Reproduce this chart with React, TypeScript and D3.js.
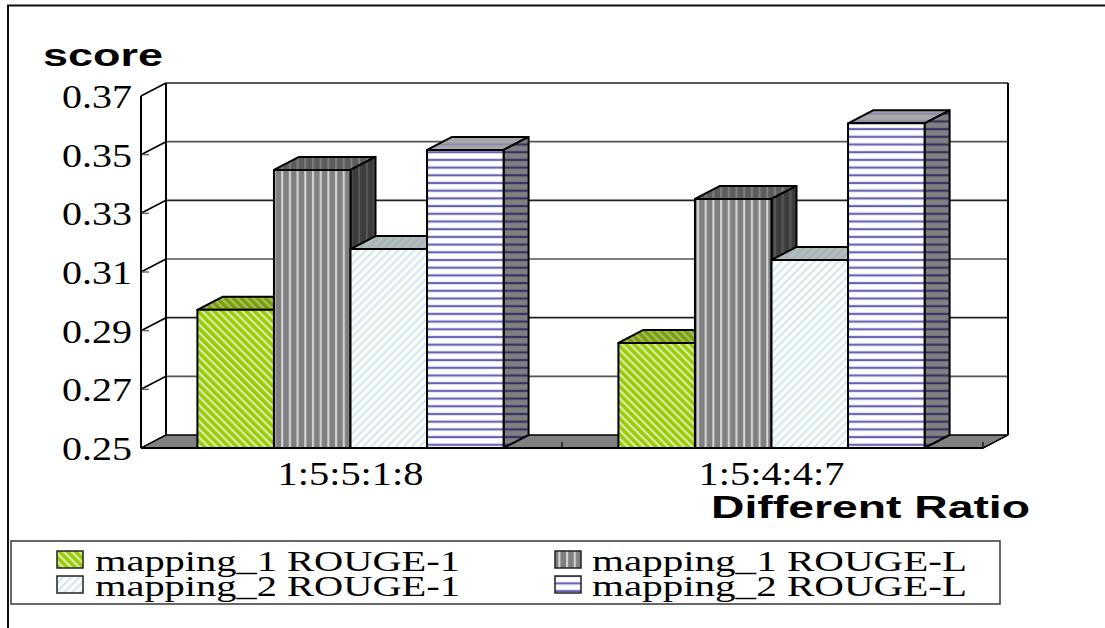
import React from "react";
import * as d3 from "d3";

const categories = ["1:5:5:1:8", "1:5:4:4:7"];
const seriesNames = ["mapping_1 ROUGE-1", "mapping_1 ROUGE-L", "mapping_2 ROUGE-1", "mapping_2 ROUGE-L"];
const ratioOne = [0.2971, 0.3448, 0.3178, 0.3516];
const ratioTwo = [0.2858, 0.3349, 0.3141, 0.3607];
const yTicks = [0.25, 0.27, 0.29, 0.31, 0.33, 0.35, 0.37];
const valuesByCategory = [ratioOne, ratioTwo];

// Hatch style per series and per box face: [base, stripe]
const hatchKinds = ["down", "vert", "up", "horiz"];
const frontFaces = [["#99cc00", "#dcebb0"], ["#808080", "#d8d8d8"], ["#ffffff", "#cfe8ee"], ["#ffffff", "#4040a4"]];
const topFaces = [["#7a9f00", "#a9bd70"], ["#5c5c5c", "#808080"], ["#b4bcbc", "#a4b4b6"], ["#a8a8a8", "#8484a8"]];
const sideFaces = [["#6d8f00", "#93a860"], ["#3c3c3c", "#5a5a5a"], ["#8a9a9c", "#a0acae"], ["#808080", "#20205e"]];

const W = 1105;
const H = 628;
const FRONT_L = 141;
const FRONT_R = 983;
const DX = 25;
const DY = 13;

const y = d3.scaleLinear().domain([0.25, 0.37]).range([448, 96]);
const x0 = d3.scaleBand<string>().domain(categories).range([FRONT_L, FRONT_R]);
const x1 = d3
  .scaleBand<string>()
  .domain(seriesNames)
  .range([0, x0.bandwidth()])
  .paddingInner(0)
  .paddingOuter(0.75);

const serif = "'Liberation Serif', serif";
const sans = "'Liberation Sans', sans-serif";

function Hatch({ id, kind, colors }: { id: string; kind: string; colors: string[] }) {
  const [base, stripe] = colors;
  if (kind === "horiz") {
    return (
      <pattern id={id} width={8} height={7.7} patternUnits="userSpaceOnUse" patternTransform="translate(0,2)">
        <rect width={8} height={7.7} fill={base} />
        <rect y={2.4} width={8} height={3} fill={stripe} opacity={0.25} />
        <rect y={3.2} width={8} height={1.4} fill={stripe} />
      </pattern>
    );
  }
  if (kind === "vert") {
    return (
      <pattern id={id} width={7.7} height={8} patternUnits="userSpaceOnUse" patternTransform="translate(1,0)">
        <rect width={7.7} height={8} fill={base} />
        <rect x={3} width={2} height={8} fill={stripe} />
      </pattern>
    );
  }
  const angle = kind === "down" ? -45 : 45;
  return (
    <pattern id={id} width={5.7} height={8} patternUnits="userSpaceOnUse" patternTransform={`rotate(${angle})`}>
      <rect width={5.7} height={8} fill={base} />
      <rect x={1.5} width={2.2} height={8} fill={stripe} />
    </pattern>
  );
}

function Bar({ cat, name, value, si }: { cat: string; name: string; value: number; si: number }) {
  const bx = (x0(cat) ?? 0) + (x1(name) ?? 0) - 1;
  const bw = x1.bandwidth();
  const top = y(value);
  const base = y(0.25);
  const line = { stroke: "#000", strokeWidth: 2, strokeLinejoin: "round" as const };
  return (
    <g>
      <polygon
        points={`${bx},${top} ${bx + bw},${top} ${bx + bw + DX},${top - DY} ${bx + DX},${top - DY}`}
        fill={`url(#top-${si})`}
        {...line}
      />
      <polygon
        points={`${bx + bw},${top} ${bx + bw + DX},${top - DY} ${bx + bw + DX},${base - DY} ${bx + bw},${base}`}
        fill={`url(#side-${si})`}
        {...line}
      />
      <rect x={bx} y={top} width={bw} height={base - top} fill={`url(#front-${si})`} {...line} />
    </g>
  );
}

function StretchedText({ x, yPos, len, size, family, weight, anchor, children }: any) {
  return (
    <text
      x={x}
      y={yPos}
      fontFamily={family}
      fontSize={size}
      fontWeight={weight}
      textAnchor={anchor}
      textLength={len}
      lengthAdjust="spacingAndGlyphs"
      fill="#000"
    >
      {children}
    </text>
  );
}

// Legend entries are laid out column-first by series group
const legendCols = [57, 555];
const legendTextCols = [95, 592];
const legendRows = [551, 576];

export default function App() {
  const wallL = FRONT_L + DX;
  const wallR = FRONT_R + DX;
  const floorFront = y(0.25);
  const floorBack = floorFront - DY;

  return (
    <svg
      width={W}
      height={H}
      viewBox={`0 0 ${W} ${H}`}
      style={{ position: "absolute", left: 0, top: 0, display: "block", background: "#fff" }}
    >
      <defs>
        {hatchKinds.map((k, i) => (
          <React.Fragment key={k}>
            <Hatch id={`front-${i}`} kind={k} colors={frontFaces[i]} />
            <Hatch id={`top-${i}`} kind={k} colors={topFaces[i]} />
            <Hatch id={`side-${i}`} kind={k} colors={sideFaces[i]} />
          </React.Fragment>
        ))}
      </defs>

      {/* outer frame, open on the right and bottom */}
      <path d={`M8,${H} V5.5 H${W}`} fill="none" stroke="#111" strokeWidth={2} />

      {/* floor of the 3D box */}
      <polygon
        points={`${FRONT_L},${floorFront} ${FRONT_R},${floorFront} ${wallR},${floorBack} ${wallL},${floorBack}`}
        fill="#808080"
        stroke="#000"
        strokeWidth={1.4}
      />

      {/* back wall with gridlines and the depth connectors */}
      {yTicks.slice(1).map((t, i) => (
        <g key={t}>
          <line
            x1={wallL}
            x2={wallR}
            y1={y(t) - DY}
            y2={y(t) - DY}
            stroke={i % 2 ? "#222" : "#555"}
            strokeWidth={1.6}
          />
          <line x1={FRONT_L} x2={wallL} y1={y(t)} y2={y(t) - DY} stroke="#000" strokeWidth={1.6} />
          {t < 0.37 && <line x1={FRONT_L} x2={FRONT_L + 8} y1={y(t)} y2={y(t)} stroke="#666" strokeWidth={1.4} />}
        </g>
      ))}
      <line x1={wallL} x2={wallL} y1={y(0.37) - DY} y2={floorBack} stroke="#000" strokeWidth={2} />
      <line x1={wallR} x2={wallR} y1={y(0.37) - DY} y2={floorBack} stroke="#000" strokeWidth={2} />
      <line x1={FRONT_L} x2={wallL} y1={floorFront} y2={floorBack} stroke="#000" strokeWidth={1.4} />
      <line x1={FRONT_R} x2={wallR} y1={floorFront} y2={floorBack} stroke="#000" strokeWidth={1.4} />

      {/* category separators along the floor edge */}
      {[FRONT_L + x0.step(), FRONT_R].map((tx) => (
        <line key={tx} x1={tx} x2={tx} y1={floorFront} y2={floorFront - 6} stroke="#000" strokeWidth={1.2} />
      ))}

      {/* bars, painted left to right so each hides the previous side face */}
      {categories.map((c, ci) =>
        seriesNames.map((s, si) => <Bar key={c + s} cat={c} name={s} value={valuesByCategory[ci][si]} si={si} />)
      )}

      {/* axes */}
      <line x1={FRONT_L} x2={FRONT_L} y1={y(0.37)} y2={floorFront} stroke="#000" strokeWidth={2} />
      <line x1={FRONT_L} x2={FRONT_R} y1={floorFront} y2={floorFront} stroke="#000" strokeWidth={2} />

      {yTicks.map((t) => (
        <StretchedText key={t} x={62} yPos={y(t) + 12} len={70} size={33} family={serif} anchor="start">
          {d3.format(".2f")(t)}
        </StretchedText>
      ))}
      {categories.map((c) => (
        <StretchedText
          key={c}
          x={(x0(c) ?? 0) + x0.bandwidth() / 2 - 1}
          yPos={485}
          len={146}
          size={33}
          family={serif}
          anchor="middle"
        >
          {c}
        </StretchedText>
      ))}

      <StretchedText x={43} yPos={66} len={120} size={32} family={sans} weight={700} anchor="start">
        score
      </StretchedText>
      <StretchedText x={711} yPos={518} len={319} size={31} family={sans} weight={700} anchor="start">
        Different Ratio
      </StretchedText>

      {/* legend */}
      <rect x={11} y={541} width={989} height={63} fill="#fff" stroke="#444" strokeWidth={1.6} />
      {seriesNames.map((s, i) => {
        const col = i % 2;
        const row = i >> 1;
        return (
          <g key={s}>
            <rect
              x={legendCols[col]}
              y={legendRows[row]}
              width={26}
              height={17}
              fill={`url(#front-${i})`}
              stroke="#222"
              strokeWidth={1.5}
            />
            <StretchedText
              x={legendTextCols[col]}
              yPos={legendRows[row] + 20}
              len={col === 0 ? 365 : 375}
              size={29}
              family={serif}
              anchor="start"
            >
              {s}
            </StretchedText>
          </g>
        );
      })}
    </svg>
  );
}
